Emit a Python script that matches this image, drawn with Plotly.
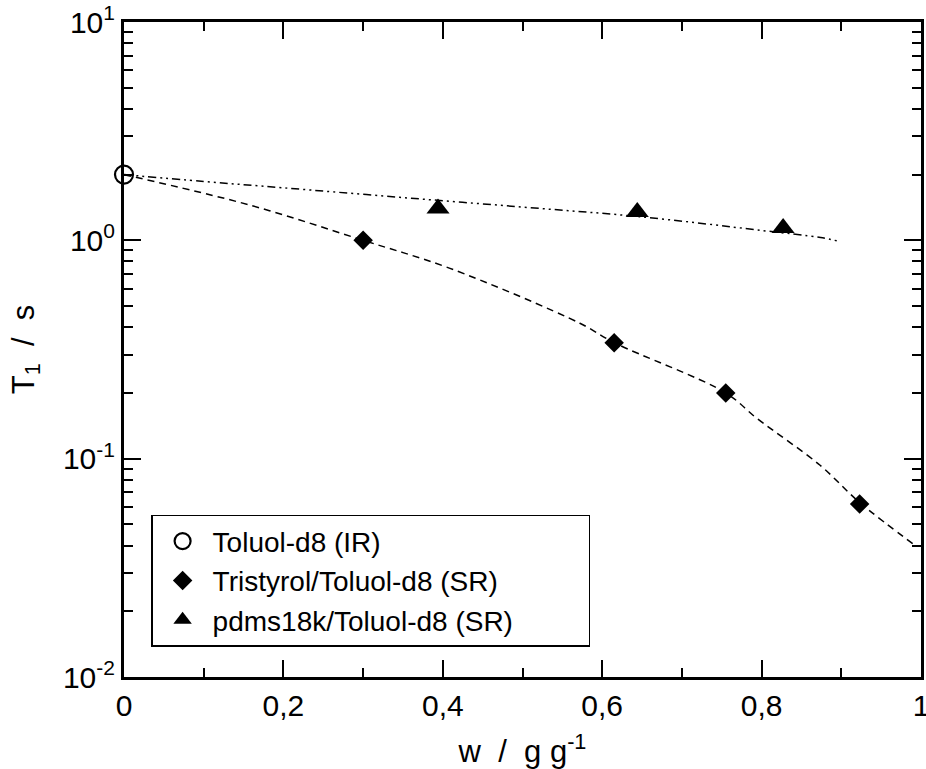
import plotly.graph_objects as go

# Data
w_ir = [0.0]
t1_ir = [2.0]

w_tristyrol = [0.30, 0.615, 0.755, 0.923]
t1_tristyrol = [1.0, 0.34, 0.20, 0.062]

w_pdms = [0.394, 0.644, 0.827]
t1_pdms = [1.40, 1.35, 1.14]

# fit curves
w_fit_tri = [0.0, 0.158, 0.30, 0.409, 0.572, 0.615, 0.755, 0.794, 0.873, 0.923, 0.995]
t1_fit_tri = [2.0, 1.45, 1.0, 0.744, 0.417, 0.34, 0.20, 0.153, 0.0935, 0.063, 0.0395]

w_fit_pdms = [0.0, 0.1, 0.2, 0.346, 0.5, 0.647, 0.8, 0.874, 0.895]
t1_fit_pdms = [2.0, 1.86, 1.74, 1.574, 1.42, 1.283, 1.11, 1.03, 0.993]

x_tickvals = [0, 0.2, 0.4, 0.6, 0.8, 1.0]
x_ticktext = ["0", "0,2", "0,4", "0,6", "0,8", "1"]
y_tickvals = [0.01, 0.1, 1, 10]
y_ticktext = ["10<sup>-2</sup>", "10<sup>-1</sup>", "10<sup>0</sup>", "10<sup>1</sup>"]

FONT = "Liberation Sans"
NB = "\u00a0"

fig = go.Figure()
fig.add_trace(go.Scatter(x=w_fit_pdms, y=t1_fit_pdms, mode="lines", showlegend=False,
                         line=dict(color="black", width=1.5, dash="8px,4px,2px,4px,2px,4px"),
                         line_shape="spline", hoverinfo="skip"))
fig.add_trace(go.Scatter(x=w_fit_tri, y=t1_fit_tri, mode="lines", showlegend=False,
                         line=dict(color="black", width=1.5, dash="7px,5px"),
                         line_shape="spline", hoverinfo="skip"))
fig.add_trace(go.Scatter(x=w_ir, y=t1_ir, mode="markers", name="Toluol-d8 (IR)",
                         marker=dict(symbol="circle-open", size=18, color="black",
                                     line=dict(width=2.2, color="black")),
                         cliponaxis=False))
fig.add_trace(go.Scatter(x=w_tristyrol, y=t1_tristyrol, mode="markers",
                         name="Tristyrol/Toluol-d8 (SR)",
                         marker=dict(symbol="diamond", size=15, color="black")))
fig.add_trace(go.Scatter(x=w_pdms, y=t1_pdms, mode="markers",
                         name="pdms18k/Toluol-d8 (SR)" + NB * 9,
                         marker=dict(symbol="triangle-up", size=20, color="black")))

axis_common = dict(showline=True, linecolor="black", linewidth=3, mirror="allticks",
                   ticks="inside", tickcolor="black", tickwidth=2, ticklen=17,
                   showgrid=False, zeroline=False, automargin=False,
                   ticklabeloverflow="allow",
                   tickfont=dict(family=FONT, size=30, color="black"))

fig.update_xaxes(range=[0, 1], tickmode="array", tickvals=x_tickvals, ticktext=x_ticktext,
                 minor=dict(ticks="inside", dtick=0.1, ticklen=9, tickwidth=1.5,
                            tickcolor="black", showgrid=False),
                 title=dict(text="w" + NB * 2 + "/" + NB * 2 + "g" + NB + "g<sup>-1</sup>",
                            font=dict(family=FONT, size=31, color="black"),
                            standoff=20),
                 **axis_common)
fig.update_yaxes(type="log", range=[-2, 1], tickmode="array", tickvals=y_tickvals,
                 ticktext=y_ticktext,
                 minor=dict(ticks="inside", dtick="D1", ticklen=9, tickwidth=1.5,
                            tickcolor="black", showgrid=False),
                 title=dict(text="T<sub>1</sub>" + NB * 2 + "/" + NB * 2 + "s",
                            font=dict(family=FONT, size=31, color="black"),
                            standoff=20),
                 **axis_common)

fig.update_layout(
    width=926, height=769,
    margin=dict(l=124, r=5, t=22, b=92),
    plot_bgcolor="white", paper_bgcolor="white",
    font=dict(family=FONT, size=30, color="black"),
    legend=dict(x=0.034, y=0.046, xanchor="left", yanchor="bottom",
                bgcolor="white", bordercolor="black", borderwidth=1.5,
                font=dict(family=FONT, size=28, color="black"),
                itemwidth=50, tracegroupgap=0),
    showlegend=True,
)

fig.write_html("out.html")
